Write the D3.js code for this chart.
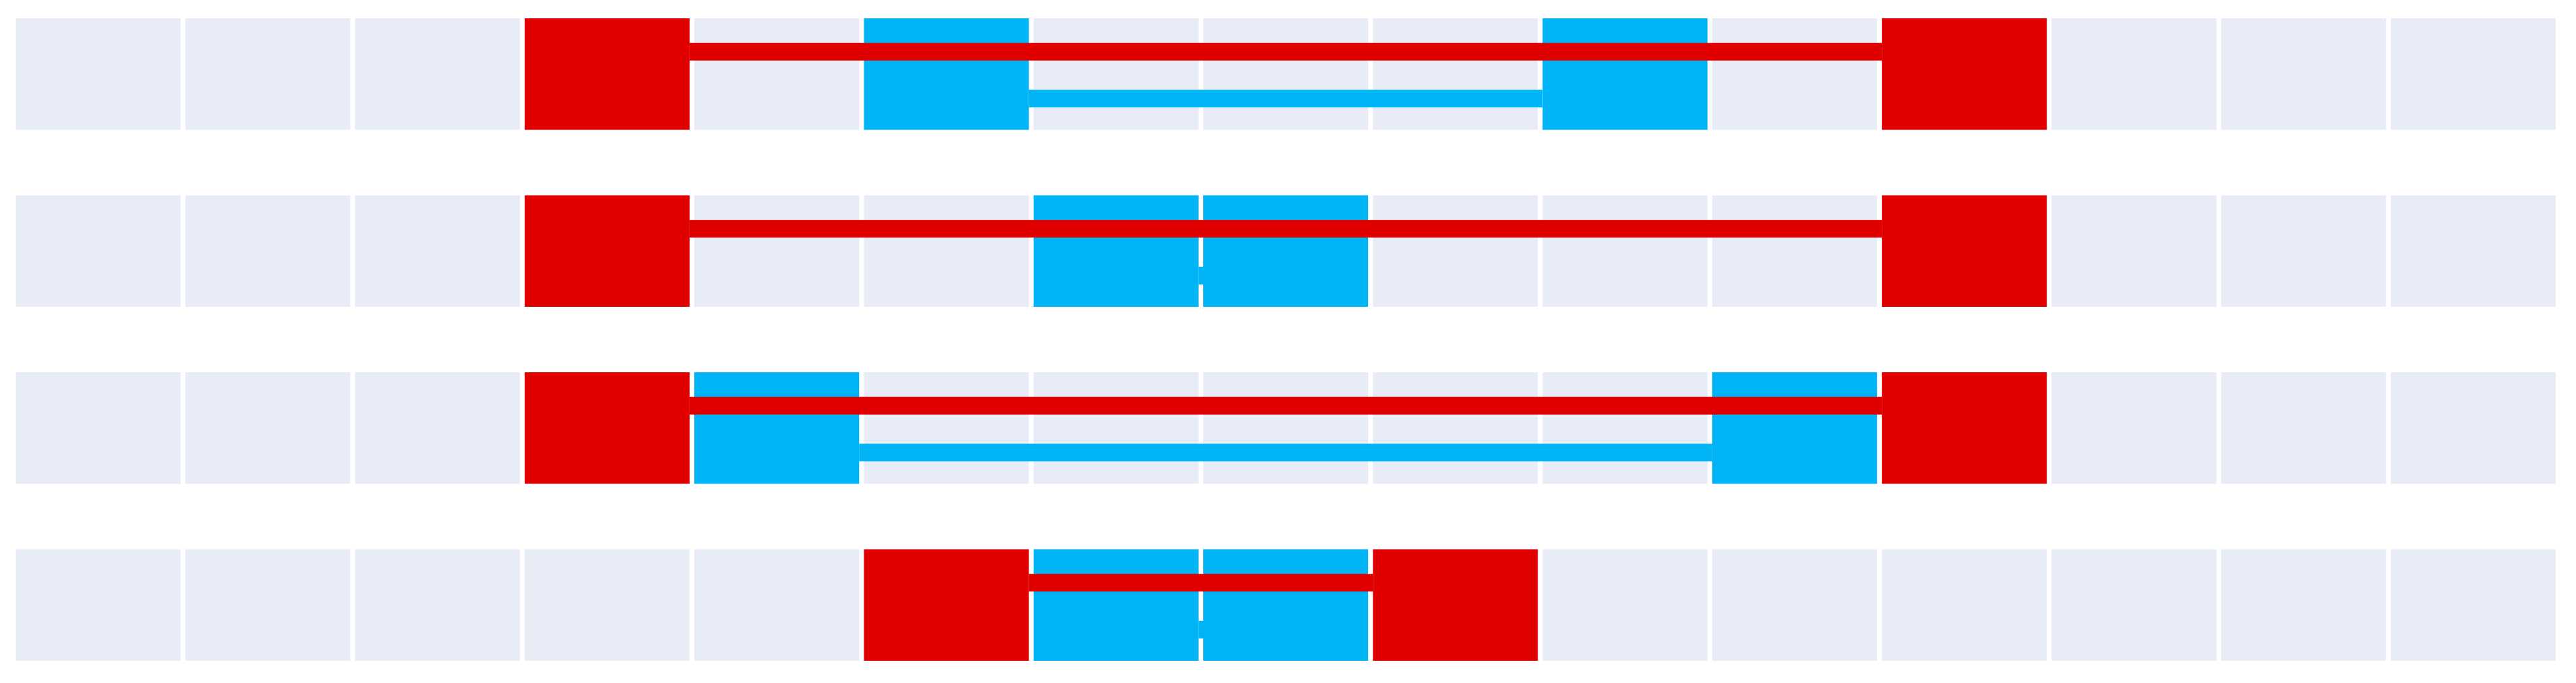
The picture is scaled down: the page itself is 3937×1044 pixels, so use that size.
<!DOCTYPE html><html><head><meta charset="utf-8"><script src="https://cdn.jsdelivr.net/npm/d3@7"></script>
<style>body{margin:0;background:#fff}</style></head><body><svg id="c" width="3937" height="1044"></svg>
<script>
const columns = d3.range(15);
const rows = [0,1,2,3];
const redPairs = [[3,11],[3,11],[3,11],[5,8]];
const cyanPairs = [[5,9],[6,7],[4,10],[6,7]];
const svg = d3.select("#c");
const x = d3.scaleBand().domain(columns).range([24,3906]).paddingInner(0.028);
const y = d3.scaleBand().domain(rows).range([28,1010]).paddingInner(0.37);
const red="#e00000", cyan="#00b4f5", bg="#e8ecf6";
const lh = 27;
rows.forEach(r=>{
  svg.selectAll(null).data(columns).enter().append("rect")
    .attr("x",d=>x(d)).attr("y",y(r)).attr("width",x.bandwidth()).attr("height",y.bandwidth()).attr("fill",bg);
  const cp=cyanPairs[r], rp=redPairs[r];
  svg.append("rect").attr("x",x(cp[0])+x.bandwidth()).attr("width",x(cp[1])-x(cp[0])-x.bandwidth())
    .attr("y",y(r)+y.bandwidth()*0.72-lh/2).attr("height",lh).attr("fill",cyan);
  cp.forEach(c=>svg.append("rect").attr("x",x(c)).attr("y",y(r)).attr("width",x.bandwidth()).attr("height",y.bandwidth()).attr("fill",cyan));
  rp.forEach(c=>svg.append("rect").attr("x",x(c)).attr("y",y(r)).attr("width",x.bandwidth()).attr("height",y.bandwidth()).attr("fill",red));
  svg.append("rect").attr("x",x(rp[0])+x.bandwidth()).attr("width",x(rp[1])-x(rp[0])-x.bandwidth())
    .attr("y",y(r)+y.bandwidth()*0.3-lh/2).attr("height",lh).attr("fill",red);
});
</script></body></html>
